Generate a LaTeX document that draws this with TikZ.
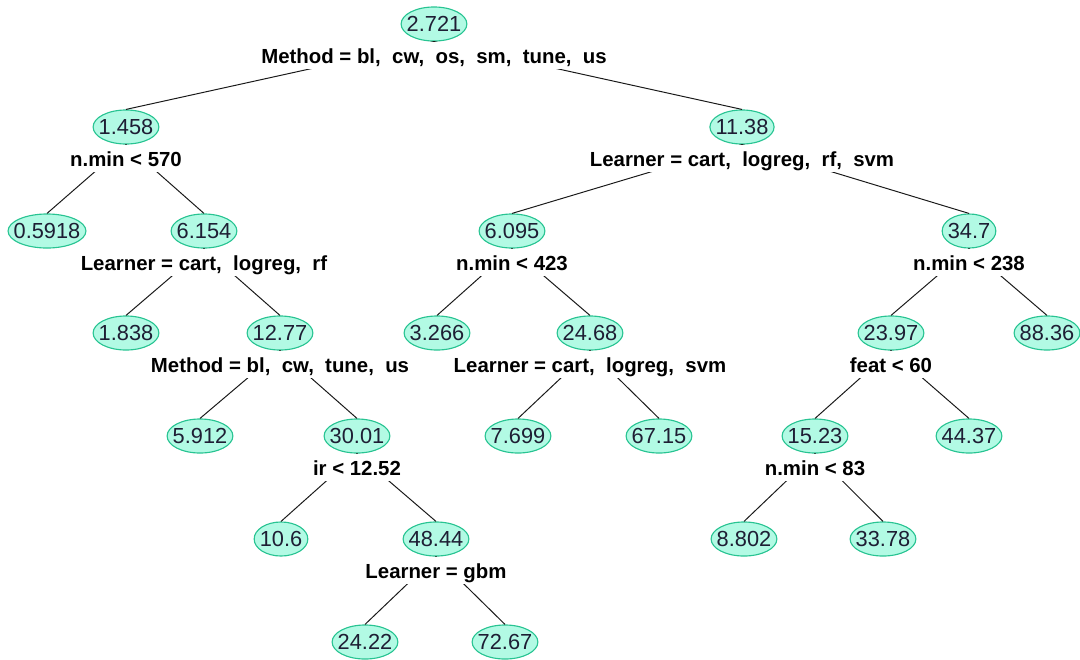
\documentclass[tikz,border=0pt]{standalone}
\usepackage{fontspec}
\setmainfont{Liberation Sans}
\usepackage{xcolor}
\usepackage{tikz}
\usetikzlibrary{positioning}
\usetikzlibrary{shapes.geometric}

\definecolor{nodefill}{RGB}{178,250,228}
\definecolor{nodeline}{RGB}{40,196,146}
\definecolor{valtext}{RGB}{30,30,52}

\tikzset{
	val/.style={ellipse, draw=nodeline, fill=nodefill, line width=0.8pt, text=valtext,
		inner sep=0pt, minimum height=24.2pt, minimum width={width("#1")+8pt},
		node contents={\makebox[0pt]{#1}}},
	split/.style={fill=white, inner xsep=1pt, inner ysep=0pt, text height=15.3pt, text depth=4.3pt,
		text=black, font=\bfseries\fontsize{14.5pt}{17pt}\selectfont},
	branch/.style={draw=black!90, line width=0.7pt}
}

\begin{document}
\begin{tikzpicture}[x=0.025cm, y=-0.025cm, execute at begin picture={\fontsize{15.5pt}{18pt}\selectfont}]
	\useasboundingbox (0,0) rectangle (1080,659);

	% fitted means, numbered as in rpart
	\node (n1) at (434,24) [val=2.721];
	\node (n2) at (126,127) [val=1.458];
	\node (n3) at (742,127) [val=11.38];
	\node (n4) at (47,231) [val=0.5918];
	\node (n5) at (204,231) [val=6.154];
	\node (n6) at (512,231) [val=6.095];
	\node (n7) at (969,231) [val=34.7];
	\node (n10) at (126,333) [val=1.838];
	\node (n11) at (280,333) [val=12.77];
	\node (n12) at (437,333) [val=3.266];
	\node (n13) at (590,333) [val=24.68];
	\node (n14) at (891,333) [val=23.97];
	\node (n15) at (1047,333) [val=88.36];
	\node (n22) at (200,436) [val=5.912];
	\node (n23) at (357,436) [val=30.01];
	\node (n26) at (518,436) [val=7.699];
	\node (n27) at (659,436) [val=67.15];
	\node (n28) at (815,436) [val=15.23];
	\node (n29) at (969,436) [val=44.37];
	\node (n46) at (281,539) [val=10.6];
	\node (n47) at (436,539) [val=48.44];
	\node (n56) at (744,539) [val=8.802];
	\node (n57) at (883,539) [val=33.78];
	\node (n94) at (365,642) [val=24.22];
	\node (n95) at (505,642) [val=72.67];

	% branches go under the split labels
	\foreach \p/\l/\r in {n1/n2/n3, n2/n4/n5, n3/n6/n7, n5/n10/n11, n6/n12/n13, n7/n14/n15,
		n11/n22/n23, n13/n26/n27, n14/n28/n29, n23/n46/n47, n28/n56/n57, n47/n94/n95}
	{
		\draw[branch] (\p.south) -- (\l.north);
		\draw[branch] (\p.south) -- (\r.north);
	}

	\node[split] (s1) [below=0pt of n1] {Method = bl,~ cw,~ os,~ sm,~ tune,~ us};
	\node[split] (s2) [below=0pt of n2] {n.min < 570};
	\node[split] (s3) [below=0pt of n3] {Learner = cart,~ logreg,~ rf,~ svm};
	\node[split] (s5) [below=0pt of n5] {Learner = cart,~ logreg,~ rf};
	\node[split] (s6) [below=0pt of n6] {n.min < 423};
	\node[split] (s7) [below=0pt of n7] {n.min < 238};
	\node[split] (s11) [below=0pt of n11] {Method = bl,~ cw,~ tune,~ us};
	\node[split] (s13) [below=0pt of n13] {Learner = cart,~ logreg,~ svm};
	\node[split] (s14) [below=0pt of n14] {feat < 60};
	\node[split] (s23) [below=0pt of n23] {ir < 12.52};
	\node[split] (s28) [below=0pt of n28] {n.min < 83};
	\node[split] (s47) [below=0pt of n47] {Learner = gbm};
\end{tikzpicture}
\end{document}
